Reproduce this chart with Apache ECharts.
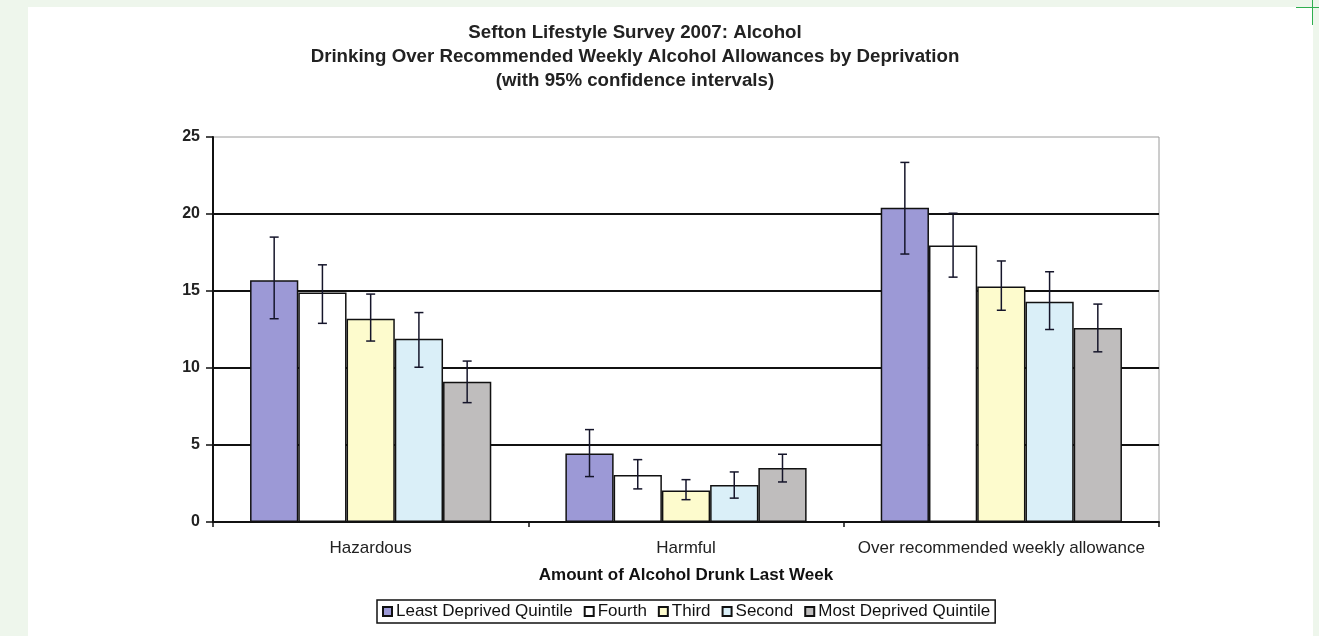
<!DOCTYPE html>
<html>
<head>
<meta charset="utf-8">
<script src="https://cdn.jsdelivr.net/npm/echarts@6/dist/echarts.min.js"></script>
<style>
html,body{margin:0;padding:0;background:#eef6ec;}
#panel{position:absolute;left:28px;top:7px;width:1285px;height:629px;background:#fff;}
#chart{position:absolute;left:0;top:0;width:1319px;height:636px;}
.gl{position:absolute;background:#2fae4f;}
</style>
</head>
<body>
<div id="panel"></div>
<div id="chart"></div>
<div class="gl" style="left:1312px;top:0;width:1px;height:25px;"></div>
<div class="gl" style="left:1296px;top:7px;width:23px;height:1px;"></div>
<script>
const categories = ['Hazardous', 'Harmful', 'Over recommended weekly allowance'];
const seriesNames = ['Least Deprived Quintile', 'Fourth', 'Third', 'Second', 'Most Deprived Quintile'];
const seriesColors = ['#9c99d6', '#ffffff', '#fdfbcd', '#daeff8', '#bfbdbd'];
const yTicks = [0, 5, 10, 15, 20, 25];
// values per series (Hazardous, Harmful, Over allowance)
const leastDeprived = [15.7, 4.45, 20.4];
const fourth        = [14.9, 3.05, 17.95];
const third         = [13.2, 2.05, 15.3];
const second        = [11.9, 2.4, 14.3];
const mostDeprived  = [9.1, 3.5, 12.6];
// 95% confidence interval lower / upper
const leastLow  = [13.2, 2.95, 17.4];
const leastHigh = [18.5, 6.0, 23.35];
const fourthLow  = [12.9, 2.15, 15.9];
const fourthHigh = [16.7, 4.05, 20.05];
const thirdLow  = [11.75, 1.45, 13.75];
const thirdHigh = [14.8, 2.75, 16.95];
const secondLow  = [10.05, 1.55, 12.5];
const secondHigh = [13.6, 3.25, 16.25];
const mostLow  = [7.75, 2.6, 11.05];
const mostHigh = [10.45, 4.4, 14.15];

const values = [leastDeprived, fourth, third, second, mostDeprived];
const lows = [leastLow, fourthLow, thirdLow, secondLow, mostLow];
const highs = [leastHigh, fourthHigh, thirdHigh, secondHigh, mostHigh];

const GAP = 0.235;
const FONT = '"Liberation Sans", Arial, sans-serif';

const errData = [];
for (let s = 0; s < values.length; s++) {
  for (let c = 0; c < categories.length; c++) {
    errData.push([c, s, lows[s][c], highs[s][c]]);
  }
}

const chart = echarts.init(document.getElementById('chart'), null, {renderer: 'canvas'});

const series = seriesNames.map((n, i) => ({
  name: n,
  type: 'bar',
  data: values[i],
  barGap: '0%',
  barCategoryGap: (GAP * 100) + '%',
  itemStyle: {color: seriesColors[i], borderColor: '#111', borderWidth: 1.5},
  emphasis: {disabled: true},
  animation: false
}));

series.push({
  type: 'custom',
  name: 'ci',
  data: errData,
  encode: {x: 0, y: [2, 3]},
  z: 5,
  animation: false,
  renderItem: function (params, api) {
    const c = api.value(0), s = api.value(1);
    const lo = api.coord([c, api.value(2)]);
    const hi = api.coord([c, api.value(3)]);
    const catW = api.size([1, 0])[0];
    const total = catW * (1 - GAP);
    const bw = total / seriesNames.length;
    const x = lo[0] - total / 2 + (s + 0.5) * bw;
    const cap = 4.5;
    const st = {stroke: '#15152a', lineWidth: 1.5};
    return {
      type: 'group',
      children: [
        {type: 'line', shape: {x1: x, y1: lo[1], x2: x, y2: hi[1]}, style: st},
        {type: 'line', shape: {x1: x - cap, y1: lo[1], x2: x + cap, y2: lo[1]}, style: st},
        {type: 'line', shape: {x1: x - cap, y1: hi[1], x2: x + cap, y2: hi[1]}, style: st}
      ]
    };
  }
});

chart.setOption({
  backgroundColor: 'transparent',
  animation: false,
  title: {
    text: 'Sefton Lifestyle Survey 2007: Alcohol\nDrinking Over Recommended Weekly Alcohol Allowances by Deprivation\n(with 95% confidence intervals)',
    left: 635,
    top: 21,
    textAlign: 'center',
    padding: 0,
    textStyle: {fontFamily: FONT, fontSize: 18.7, fontWeight: 'bold', color: '#222', lineHeight: 24}
  },
  legend: {
    data: seriesNames,
    left: 377,
    top: 600,
    icon: 'rect',
    itemWidth: 9,
    itemHeight: 9,
    itemGap: 11,
    padding: [3, 5, 3, 5],
    borderColor: '#111',
    borderWidth: 1.5,
    backgroundColor: '#fff',
    selectedMode: false,
    textStyle: {fontFamily: FONT, fontSize: 17, color: '#111', padding: [0, 0, 0, -1]}
  },
  grid: {
    left: 213, right: 160, top: 137, bottom: 114,
    show: true, borderColor: '#9a9a9a', borderWidth: 1, backgroundColor: 'transparent'
  },
  xAxis: {
    type: 'category',
    data: categories,
    name: 'Amount of Alcohol Drunk Last Week',
    nameLocation: 'middle',
    nameGap: 45,
    nameTextStyle: {fontFamily: FONT, fontSize: 17, fontWeight: 'bold', color: '#111'},
    axisLine: {lineStyle: {color: '#111', width: 2}},
    axisTick: {show: true, length: 5, lineStyle: {color: '#111', width: 1.5}},
    axisLabel: {fontFamily: FONT, fontSize: 17, color: '#222', margin: 18, interval: 0},
    splitLine: {show: false}
  },
  yAxis: {
    type: 'value',
    min: yTicks[0],
    max: yTicks[yTicks.length - 1],
    interval: yTicks[1] - yTicks[0],
    axisLine: {show: true, lineStyle: {color: '#111', width: 2}},
    axisTick: {show: true, length: 7, lineStyle: {color: '#111', width: 1.5}},
    axisLabel: {fontFamily: FONT, fontSize: 16, fontWeight: 'bold', color: '#222', margin: 13},
    splitLine: {show: true, showMinLine: false, showMaxLine: false, lineStyle: {color: '#111', width: 2}}
  },
  tooltip: {show: false},
  series: series
});
</script>
</body>
</html>
